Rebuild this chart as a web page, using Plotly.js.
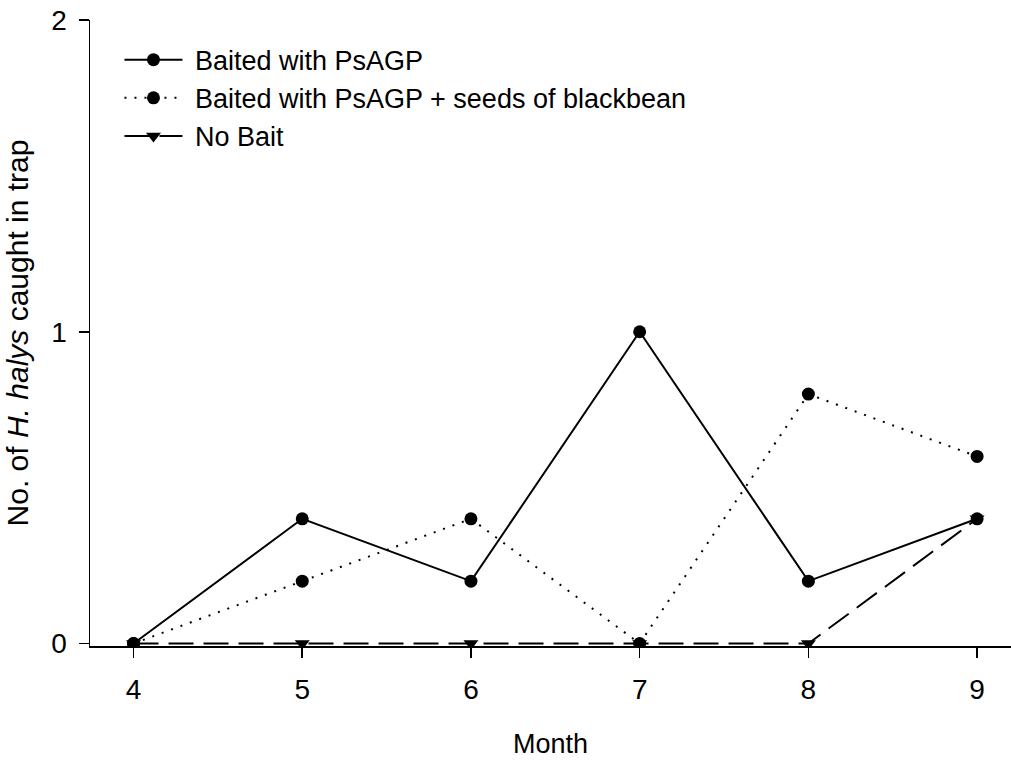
<!DOCTYPE html>
<html>
<head>
<meta charset="utf-8">
<script src="https://cdn.plot.ly/plotly-3.0.1.min.js"></script>
<style>html,body{margin:0;padding:0;background:#fff;}#chart{width:1011px;height:764px;}</style>
</head>
<body>
<div id="chart"></div>
<script>
var months = [4, 5, 6, 7, 8, 9];
var baitedPsAGP = [0, 0.4, 0.2, 1, 0.2, 0.4];
var baitedSeeds = [0, 0.2, 0.4, 0, 0.8, 0.6];
var noBait = [0, 0, 0, 0, 0, 0.4];
var seriesNames = ['Baited with PsAGP', 'Baited with PsAGP + seeds of blackbean', 'No Bait'];
var xTicks = [4, 5, 6, 7, 8, 9];
var yTicks = [0, 1, 2];

var FONT = 'Liberation Sans, Arial, sans-serif';
var PAD = '\u00a0';

var traces = [
  {x: months, y: baitedPsAGP, name: PAD + seriesNames[0], mode: 'lines+markers', legendgroup: 'a',
   line: {color: '#000', width: 2, dash: 'solid'},
   marker: {symbol: 'circle', size: 13, color: '#000'}},
  {x: months, y: baitedSeeds, name: PAD + seriesNames[1], mode: 'lines+markers', legendgroup: 'b',
   line: {color: '#000', width: 2, dash: '2px,8px'},
   marker: {symbol: 'circle', size: 13, color: '#000'}},
  {x: months, y: noBait, name: PAD + seriesNames[2], mode: 'lines+markers', legendgroup: 'c',
   line: {color: '#000', width: 2, dash: '25px,10px'},
   marker: {symbol: 'triangle-down', size: 13, color: '#000'}}
];

var layout = {
  width: 1011, height: 764,
  paper_bgcolor: '#fff', plot_bgcolor: '#fff',
  margin: {l: 89.5, r: 0, t: 20, b: 118},
  font: {family: FONT, color: '#000', size: 27},
  showlegend: true,
  legend: {x: 0.032, y: 0.975, xanchor: 'left', yanchor: 'top', bgcolor: 'rgba(0,0,0,0)',
           font: {family: FONT, size: 27, color: '#000'}, itemwidth: 58, tracegroupgap: 0},
  xaxis: {range: [3.742, 9.201], showgrid: false, zeroline: false, showline: true,
          linecolor: '#000', linewidth: 1.5, ticks: 'outside', ticklen: 10, tickwidth: 1.5,
          tickcolor: '#000', tickvals: xTicks, ticktext: xTicks.map(String), ticklabelstandoff: 8,
          tickfont: {family: FONT, size: 28, color: '#000'},
          title: {text: 'Month', font: {family: FONT, size: 27, color: '#000'}, standoff: 30}},
  yaxis: {range: [-0.008, 2], showgrid: false, zeroline: false, showline: true,
          linecolor: '#000', linewidth: 1.5, ticks: 'outside', ticklen: 10, tickwidth: 1.5,
          tickcolor: '#000', tickvals: yTicks, ticktext: yTicks.map(String), ticklabelstandoff: 6,
          tickfont: {family: FONT, size: 28, color: '#000'},
          title: {text: 'No. of <i>H. halys</i> caught in trap', font: {family: FONT, size: 30, color: '#000'}, standoff: 14}}
};

Plotly.newPlot('chart', traces, layout, {displayModeBar: false, staticPlot: true});
</script>
</body>
</html>
